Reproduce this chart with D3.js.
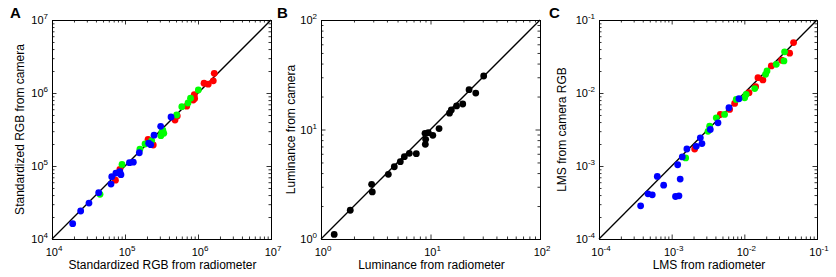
<!DOCTYPE html>
<html>
<head>
<meta charset="utf-8">
<script src="https://cdn.jsdelivr.net/npm/d3@7"></script>
<style>
body { margin: 0; background: #fff; }
text { font-family: "Liberation Sans", Arial, sans-serif; fill: #000; }
</style>
</head>
<body>
<div id="fig"></div>
<script>
// ---- data ----
// panel A: standardized RGB, radiometer (x) vs camera (y)
const aRedX   = [7.4e4, 8.5e4, 2.07e5, 2.44e5, 4.84e5, 5.2e5, 7.0e5, 8.6e5, 9.0e5, 8.8e5, 8.9e5, 1.21e6, 1.38e6, 1.62e6, 1.67e6];
const aRedY   = [6.4e4, 9.0e4, 2.32e5, 1.94e5, 4.27e5, 4.84e5, 6.6e5, 8.0e5, 8.4e5, 9.0e5, 9.5e5, 1.36e6, 1.32e6, 1.47e6, 1.86e6];
const aGreenX = [4.55e4, 9.1e4, 1.6e5, 1.88e5, 2.32e5, 3.1e5, 3.3e5, 3.4e5, 3.2e5, 5.1e5, 6.0e5, 7.3e5, 7.9e5, 1.01e6];
const aGreenY = [4.09e4, 1.05e5, 1.7e5, 2.0e5, 2.22e5, 2.6e5, 3.1e5, 2.8e5, 2.9e5, 5.0e5, 6.5e5, 7.3e5, 8.5e5, 1.1e6];
const aBlueX  = [1.92e4, 2.47e4, 3.21e4, 4.36e4, 6.43e4, 6.58e4, 7.5e4, 8.5e4, 8.8e4, 1.15e5, 1.3e5, 1.57e5, 2.11e5, 2.25e5, 2.5e5, 3.08e5, 4.27e5];
const aBlueY  = [1.62e4, 2.42e4, 3.11e4, 4.31e4, 5.66e4, 7.13e4, 8.0e4, 8.4e4, 7.6e4, 1.11e5, 1.13e5, 1.52e5, 2.05e5, 1.96e5, 2.64e5, 3.5e5, 4.69e5];

// panel B: luminance, radiometer (x) vs camera (y)
const bLumX = [1.32, 1.85, 2.90, 2.94, 4.12, 4.67, 5.30, 5.77, 6.41, 7.42, 8.97, 9.03, 8.91, 9.55, 10.5, 11.97, 14.9, 15.5, 17.3, 19.7, 22.5, 25.9, 30.6];
const bLumY = [1.10, 1.83, 3.16, 2.69, 3.90, 4.57, 5.08, 5.65, 6.06, 6.01, 7.32, 8.13, 9.23, 9.35, 8.85, 10.2, 14.1, 15.1, 16.4, 17.1, 23.1, 21.5, 30.8];

// panel C: LMS, radiometer (x) vs camera RGB (y)
const cRedX   = [2.07e-3, 4.67e-3, 6.27e-3, 7.35e-3, 1.16e-2, 1.43e-2, 1.54e-2, 1.80e-2, 2.35e-2, 3.26e-2, 4.20e-2, 4.76e-2];
const cRedY   = [1.71e-3, 5.08e-3, 5.95e-3, 7.19e-3, 1.01e-2, 1.22e-2, 1.62e-2, 1.51e-2, 2.35e-2, 2.81e-2, 3.51e-2, 4.91e-2];
const cGreenX = [1.56e-3, 3.16e-3, 3.33e-3, 4.11e-3, 5.35e-3, 7.74e-3, 1.01e-2, 1.06e-2, 1.39e-2, 1.96e-2, 2.05e-2, 2.75e-2, 3.51e-2, 3.58e-2];
const cGreenY = [1.29e-3, 2.99e-3, 3.51e-3, 4.57e-3, 5.08e-3, 8.17e-3, 8.61e-3, 9.57e-3, 1.15e-2, 1.80e-2, 2.00e-2, 2.47e-2, 2.75e-2, 3.66e-2];
const cBlueX  = [3.74e-4, 4.72e-4, 5.41e-4, 6.34e-4, 7.76e-4, 1.13e-3, 1.26e-3, 1.31e-3, 1.21e-3, 1.40e-3, 1.62e-3, 2.18e-3, 2.48e-3, 2.61e-3, 3.40e-3, 4.34e-3, 6.14e-3, 8.43e-3];
const cBlueY  = [2.85e-4, 4.16e-4, 4.03e-4, 7.2e-4, 5.47e-4, 3.82e-4, 3.90e-4, 6.62e-4, 1.04e-3, 1.33e-3, 1.71e-3, 1.86e-3, 2.43e-3, 2.03e-3, 3.16e-3, 3.90e-3, 6.28e-3, 8.34e-3];

const W = 836, H = 277;
const plotTop = 20, plotBottom = 239;

const svg = d3.select("#fig").append("svg")
    .attr("width", W)
    .attr("height", H);

function isMajor(v) {
    const l = Math.log10(v);
    return Math.abs(l - Math.round(l)) < 1e-6;
}

function powLabel(sel, v) {
    const e = Math.round(Math.log10(v));
    sel.append("tspan").text("10");
    sel.append("tspan").attr("dy", -5).attr("font-size", 8).text(e < 0 ? "-" + (-e) : e);
}

function panel(p) {
    const g = svg.append("g");
    const x = d3.scaleLog().domain(p.domain).range([p.left, p.right]);
    const y = d3.scaleLog().domain(p.domain).range([plotBottom, plotTop]);

    const all = x.ticks();
    const major = all.filter(isMajor);
    const minor = all.filter(d => !isMajor(d));

    // ticks inside on all four sides
    const sides = [
        [d3.axisBottom, x, `translate(0,${plotBottom})`],
        [d3.axisTop, x, `translate(0,${plotTop})`],
        [d3.axisLeft, y, `translate(${p.left},0)`],
        [d3.axisRight, y, `translate(${p.right},0)`]
    ];
    sides.forEach(([ax, sc, tr]) => {
        [[minor, 2.5], [major, 4.5]].forEach(([vals, len]) => {
            const a = g.append("g").attr("transform", tr)
                .call(ax(sc).tickValues(vals).tickSize(-len).tickFormat(""));
            a.select(".domain").remove();
            a.selectAll("line").attr("stroke", "#000").attr("stroke-width", 0.8);
        });
    });

    g.append("rect")
        .attr("x", p.left + 0.5).attr("y", plotTop + 0.5)
        .attr("width", p.right - p.left).attr("height", plotBottom - plotTop)
        .attr("fill", "none").attr("stroke", "#000").attr("stroke-width", 1);

    // tick labels
    g.selectAll(".xl").data(major).join("text")
        .attr("x", d => x(d) + 2)
        .attr("y", 256)
        .attr("text-anchor", "middle")
        .attr("font-size", 11)
        .each(function (d) { powLabel(d3.select(this), d); });
    g.selectAll(".yl").data(major).join("text")
        .attr("x", p.left - 4)
        .attr("y", d => y(d) + 4)
        .attr("text-anchor", "end")
        .attr("font-size", 11)
        .each(function (d) { powLabel(d3.select(this), d); });

    // unity line
    g.append("line")
        .attr("x1", x(p.domain[0])).attr("y1", y(p.domain[0]))
        .attr("x2", x(p.domain[1])).attr("y2", y(p.domain[1]))
        .attr("stroke", "#000").attr("stroke-width", 1.3);

    // points
    p.series.forEach(s => {
        g.append("g").selectAll("circle")
            .data(d3.zip(s.xs, s.ys))
            .join("circle")
            .attr("cx", d => x(d[0]))
            .attr("cy", d => y(d[1]))
            .attr("r", 3.4)
            .attr("fill", s.color);
    });

    // axis labels
    g.append("text")
        .attr("x", (p.left + p.right) / 2 + 1)
        .attr("y", 269)
        .attr("text-anchor", "middle")
        .attr("font-size", 12)
        .text(p.xLabel);
    g.append("text")
        .attr("transform", `translate(${p.yLabelX},${(plotTop + plotBottom) / 2}) rotate(-90)`)
        .attr("text-anchor", "middle")
        .attr("font-size", 12)
        .text(p.yLabel);

    // panel letter
    g.append("text")
        .attr("x", p.letterX).attr("y", 18)
        .attr("font-size", 15)
        .attr("font-weight", "bold")
        .text(p.letter);
}

panel({
    letter: "A", letterX: 10, left: 52, right: 271, domain: [1e4, 1e7], yLabelX: 24,
    xLabel: "Standardized RGB from radiometer", yLabel: "Standardized RGB from camera",
    series: [
        { xs: aRedX, ys: aRedY, color: "#ff0000" },
        { xs: aGreenX, ys: aGreenY, color: "#00ff00" },
        { xs: aBlueX, ys: aBlueY, color: "#0000ff" }
    ]
});

panel({
    letter: "B", letterX: 277, left: 321, right: 540, domain: [1, 100], yLabelX: 295,
    xLabel: "Luminance from radiometer", yLabel: "Luminance from camera",
    series: [
        { xs: bLumX, ys: bLumY, color: "#000000" }
    ]
});

panel({
    letter: "C", letterX: 549, left: 599, right: 817, domain: [1e-4, 1e-1], yLabelX: 566,
    xLabel: "LMS from radiometer", yLabel: "LMS from camera RGB",
    series: [
        { xs: cRedX, ys: cRedY, color: "#ff0000" },
        { xs: cGreenX, ys: cGreenY, color: "#00ff00" },
        { xs: cBlueX, ys: cBlueY, color: "#0000ff" }
    ]
});
</script>
</body>
</html>
